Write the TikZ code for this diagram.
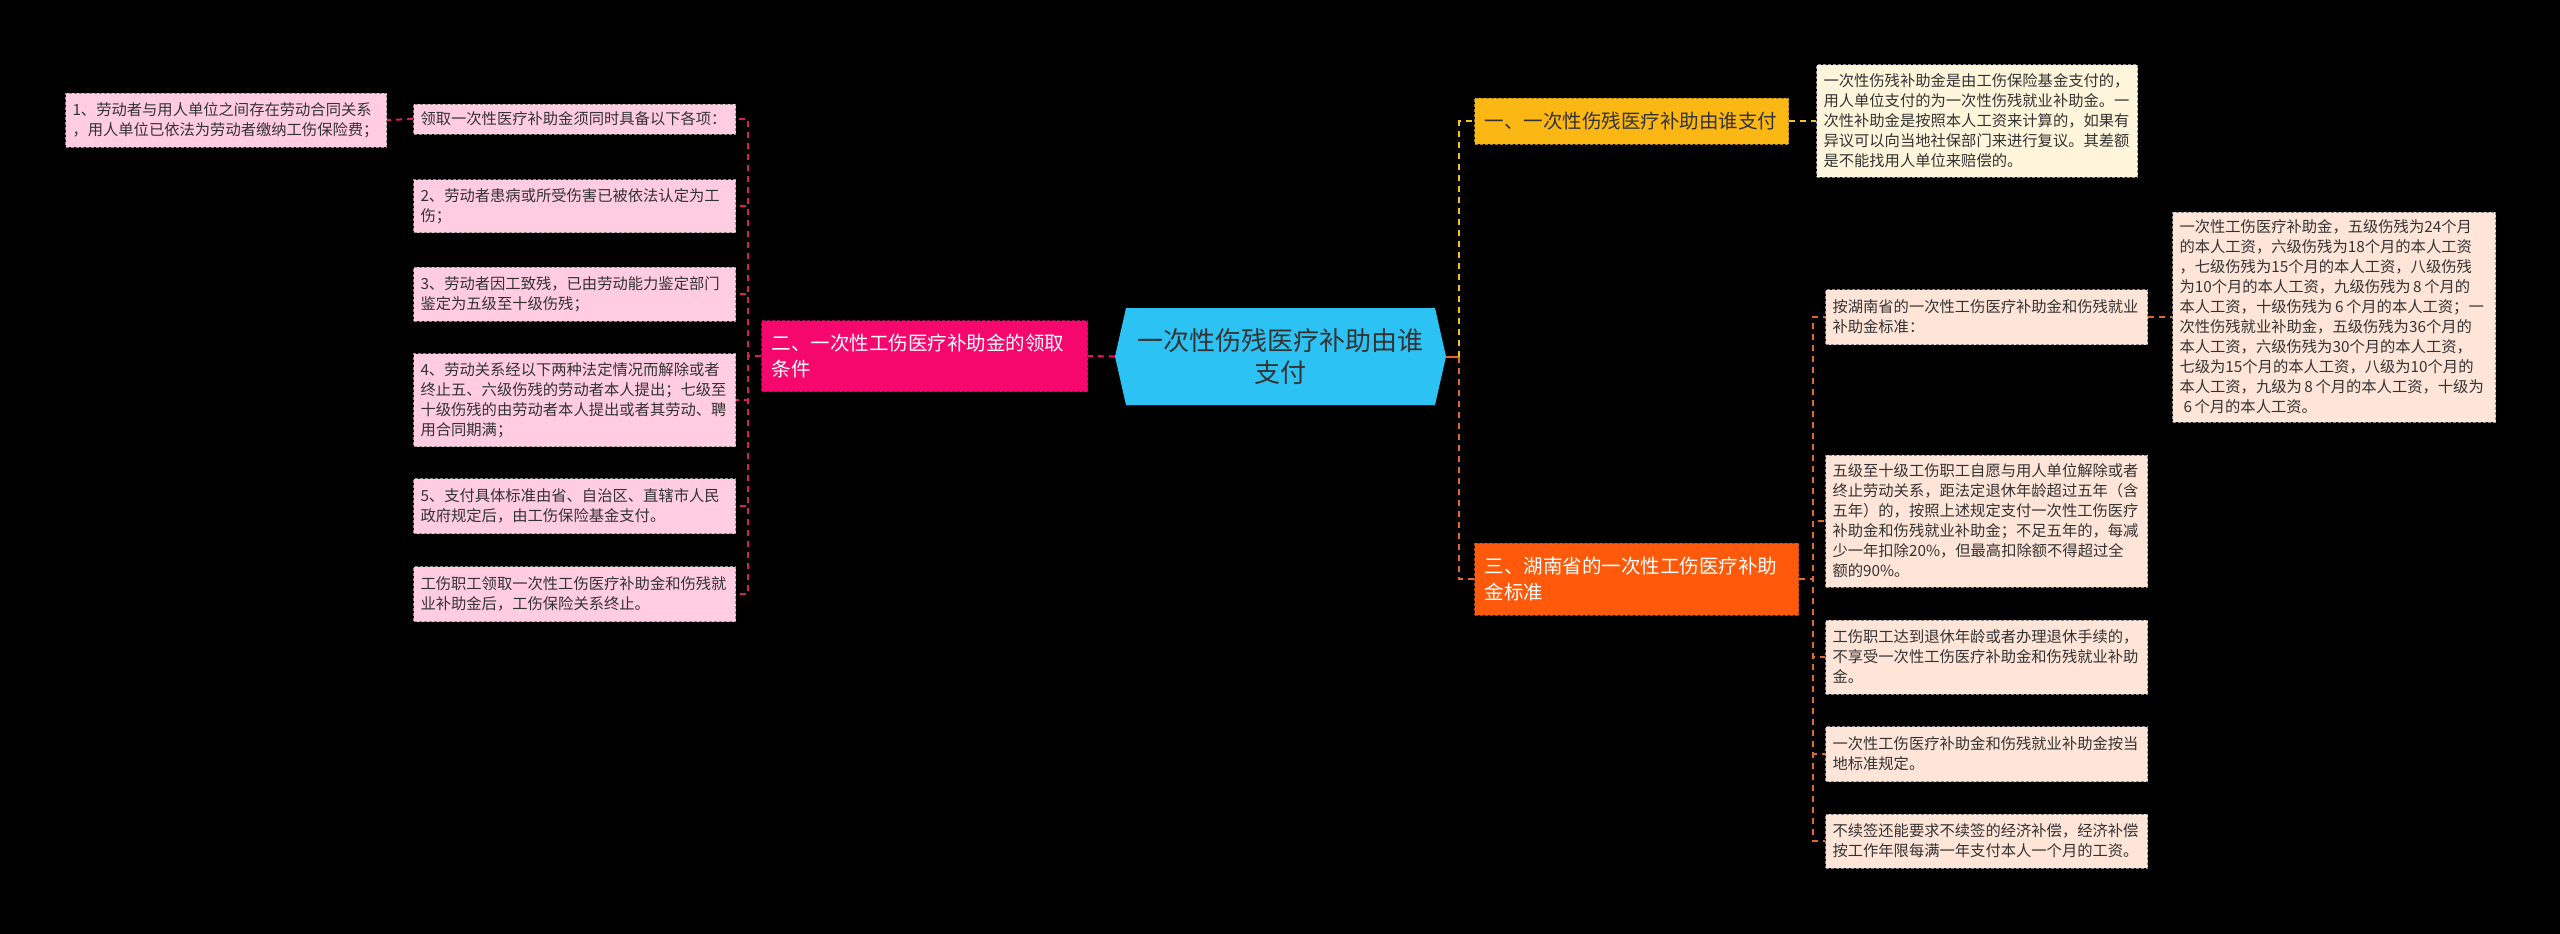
\documentclass[tikz,border=0pt]{standalone}
\usepackage{fontspec}
\setmainfont{Noto Sans CJK SC}
\usetikzlibrary{positioning}
\definecolor{ctrblue}{HTML}{2CC3F4}
\definecolor{pinkmain}{HTML}{F5076E}
\definecolor{pinkleaf}{HTML}{FFCCE2}
\definecolor{pinkline}{HTML}{D61F5E}
\definecolor{goldmain}{HTML}{FBB714}
\definecolor{goldleaf}{HTML}{FFF5DA}
\definecolor{goldline}{HTML}{F2C51E}
\definecolor{orgmain}{HTML}{FF5A0B}
\definecolor{orgleaf}{HTML}{FFE5D8}
\definecolor{orgline}{HTML}{E2682A}
\definecolor{txtgray}{HTML}{333333}
\tikzset{leaf/.style={draw=black!45,dash pattern=on 3pt off 2pt,line width=1pt,text=txtgray,
    align=left,anchor=west,inner xsep=7pt,inner ysep=3pt,text width=308pt,
    font=\fontsize{15.3}{20}\selectfont}}
\tikzset{mainbox/.style={dash pattern=on 3pt off 2pt,line width=1pt,align=left,anchor=west,
    inner xsep=10pt,inner ysep=3pt,font=\fontsize{19.5}{26}\selectfont}}
\tikzset{link/.style={dash pattern=on 6pt off 5pt,line width=2pt}}

\begin{document}
\begin{tikzpicture}[x=1pt,y=-1pt]
\useasboundingbox (0,0) rectangle (2560,934);
\fill[black] (0,0) rectangle (2560,934);
% centre
\fill[ctrblue] (1115,356.5) -- (1126,308) -- (1435,308) -- (1446,356.5) -- (1435,405) -- (1126,405) -- cycle;
\node (ctr) [minimum width=331pt,minimum height=97pt,inner sep=0pt,align=center,text=txtgray,
  font=\fontsize{26}{32}\selectfont] at (1280.5,356.5) {一次性伤残医疗补助由谁\\支付};
%
% left branch
\node (lmain) [mainbox,fill=pinkmain,draw=pinkmain!70!black,text=white,text width=306pt,minimum height=71pt] at (761,356) {二、一次性工伤医疗补助金的领取\\条件};
\node (lq0) [leaf,fill=pinkleaf,minimum height=30pt] at (413,119) {领取一次性医疗补助金须同时具备以下各项：};
\node (lq1) [leaf,fill=pinkleaf,minimum height=53pt] at (413,206) {2、劳动者患病或所受伤害已被依法认定为工\\伤；};
\node (lq2) [leaf,fill=pinkleaf,minimum height=54pt] at (413,294) {3、劳动者因工致残，已由劳动能力鉴定部门\\鉴定为五级至十级伤残；};
\node (lq3) [leaf,fill=pinkleaf,minimum height=93pt] at (413,400) {4、劳动关系经以下两种法定情况而解除或者\\终止五、六级伤残的劳动者本人提出；七级至\\十级伤残的由劳动者本人提出或者其劳动、聘\\用合同期满；};
\node (lq4) [leaf,fill=pinkleaf,minimum height=55pt] at (413,506) {5、支付具体标准由省、自治区、直辖市人民\\政府规定后，由工伤保险基金支付。};
\node (lq5) [leaf,fill=pinkleaf,minimum height=55pt] at (413,594) {工伤职工领取一次性工伤医疗补助金和伤残就\\业补助金后，工伤保险关系终止。};
\node (lp0) [leaf,fill=pinkleaf,text width=307pt,minimum height=54pt] at (65,120) {1、劳动者与用人单位之间存在劳动合同关系\\，用人单位已依法为劳动者缴纳工伤保险费；};
%
\draw[link,pinkmain] (ctr.west) -- (lmain.east);
\foreach \n in {0,...,5}
  \draw[link,pinkline] (lmain.west) -- ++(-13,0) |- (lq\n.east);
\draw[link,pinkline] (lq0.west) -- (lp0.east);
%
% right branch
\node (rtop) [mainbox,fill=goldmain,draw=goldmain!70!black,text=txtgray,text width=294pt,minimum height=46pt] at (1474,121) {一、一次性伤残医疗补助由谁支付};
\node (rtopq) [leaf,fill=goldleaf,text width=307pt,minimum height=112pt] at (1816,121) {一次性伤残补助金是由工伤保险基金支付的，\\用人单位支付的为一次性伤残就业补助金。一\\次性补助金是按照本人工资来计算的，如果有\\异议可以向当地社保部门来进行复议。其差额\\是不能找用人单位来赔偿的。};
\node (rlow) [mainbox,fill=orgmain,draw=orgmain!70!black,text=white,text width=304pt,minimum height=72pt] at (1474,579) {三、湖南省的一次性工伤医疗补助\\金标准};
\node (rq0) [leaf,fill=orgleaf,minimum height=55pt] at (1825,317) {按湖南省的一次性工伤医疗补助金和伤残就业\\补助金标准：};
\node (rq1) [leaf,fill=orgleaf,minimum height=132pt] at (1825,521) {五级至十级工伤职工自愿与用人单位解除或者\\终止劳动关系，距法定退休年龄超过五年（含\\五年）的，按照上述规定支付一次性工伤医疗\\补助金和伤残就业补助金；不足五年的，每减\\少一年扣除20\%，但最高扣除额不得超过全\\额的90\%。};
\node (rq2) [leaf,fill=orgleaf,minimum height=74pt] at (1825,657) {工伤职工达到退休年龄或者办理退休手续的，\\不享受一次性工伤医疗补助金和伤残就业补助\\金。};
\node (rq3) [leaf,fill=orgleaf,minimum height=55pt] at (1825,754) {一次性工伤医疗补助金和伤残就业补助金按当\\地标准规定。};
\node (rq4) [leaf,fill=orgleaf,minimum height=54pt] at (1825,841) {不续签还能要求不续签的经济补偿，经济补偿\\按工作年限每满一年支付本人一个月的工资。};
\node (rp0) [leaf,fill=orgleaf,text width=309pt,minimum height=210pt] at (2172,317) {一次性工伤医疗补助金，五级伤残为24个月\\的本人工资，六级伤残为18个月的本人工资\\，七级伤残为15个月的本人工资，八级伤残\\为10个月的本人工资，九级伤残为\,8\,个月的\\本人工资，十级伤残为\,6\,个月的本人工资；一\\次性伤残就业补助金，五级伤残为36个月的\\本人工资，六级伤残为30个月的本人工资，\\七级为15个月的本人工资，八级为10个月的\\本人工资，九级为\,8\,个月的本人工资，十级为\\\hspace*{4pt}6\,个月的本人工资。};
%
\draw[line width=2pt,orgline] (ctr.east) -- ++(13,0) coordinate (rjoin);
\draw[link,goldline] (rjoin) |- (rtop.west);
\draw[link,orgline] (rjoin) |- (rlow.west);
\draw[link,goldline] (rtop.east) -- (rtopq.west);
\foreach \n in {0,...,4}
  \draw[link,orgline] (rlow.east) -- ++(14,0) |- (rq\n.west);
\draw[link,orgline] (rq0.east) -- (rp0.west);
\end{tikzpicture}
\end{document}
